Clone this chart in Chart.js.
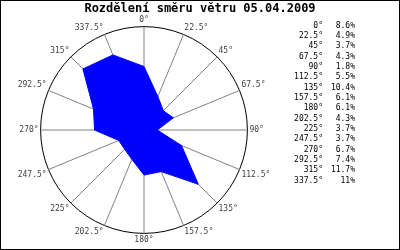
<!DOCTYPE html>
<html>
<head>
<meta charset="utf-8">
<script src="https://cdn.jsdelivr.net/npm/chart.js@4"></script>
<style>
  html, body { margin: 0; padding: 0; background: #fff; }
  #wrap { width: 400px; height: 250px; }
</style>
</head>
<body>
<div id="wrap"><canvas id="wind-chart" width="400" height="250"></canvas></div>
<script>
const titleText = "Rozdělení směru větru 05.04.2009";
const directions = ["0°", "22.5°", "45°", "67.5°", "90°", "112.5°", "135°", "157.5°",
                    "180°", "202.5°", "225°", "247.5°", "270°", "292.5°", "315°", "337.5°"];
const shares = [8.6, 4.9, 3.7, 4.3, 1.8, 5.5, 10.4, 6.1, 6.1, 4.3, 3.7, 3.7, 6.7, 7.4, 11.7, 11];
const scaleMax = 14;

const mono = "'DejaVu Sans Mono', 'Liberation Mono', monospace";

// title, legend list on the right and the frame
const extras = {
    id: "extras",
    afterDraw(chart) {
        const ctx = chart.ctx;
        ctx.save();
        ctx.fillStyle = "#000";
        ctx.font = "bold 12px " + mono;
        ctx.textAlign = "center";
        ctx.textBaseline = "middle";
        ctx.fillText(titleText, 200, 9);

        ctx.font = "8px " + mono;
        directions.forEach((d, i) => {
            const y = 25.7 + i * 10.33;
            ctx.textAlign = "right";
            ctx.fillText(d, 323, y);
            ctx.fillText(shares[i] + "%", 355, y);
        });

        ctx.strokeStyle = "#000";
        ctx.lineWidth = 1;
        ctx.strokeRect(0.5, 0.5, 399, 249);
        ctx.restore();
    }
};

const ctx = document.getElementById("wind-chart").getContext("2d");
new Chart(ctx, {
    type: "radar",
    data: {
        labels: directions,
        datasets: [{
            data: shares,
            backgroundColor: "#0000ff",
            borderColor: "#0000ff",
            borderWidth: 1,
            pointRadius: 0,
            fill: true
        }]
    },
    options: {
        responsive: false,
        animation: false,
        layout: { padding: { left: 0, right: 112, top: 15, bottom: 4 } },
        plugins: { legend: { display: false }, title: { display: false }, tooltip: { enabled: false } },
        scales: {
            r: {
                min: 0,
                max: scaleMax,
                ticks: { display: false, stepSize: scaleMax },
                grid: { circular: true, color: "#000", lineWidth: 1 },
                angleLines: { color: "#808080", lineWidth: 1 },
                pointLabels: {
                    font: { family: mono, size: 8 },
                    color: "#404040",
                    padding: 2
                }
            }
        }
    },
    plugins: [extras]
});
</script>
</body>
</html>
